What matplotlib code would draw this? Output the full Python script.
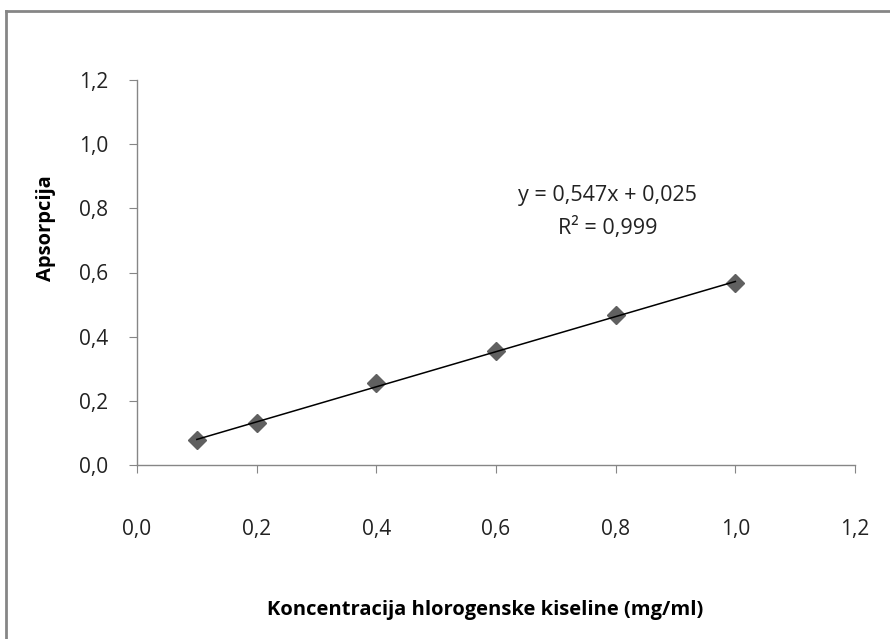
import numpy as np
import matplotlib
matplotlib.use('agg')
import matplotlib.pyplot as plt
from matplotlib.lines import Line2D
from matplotlib.ticker import FuncFormatter

# data
konc = [0.1, 0.2, 0.4, 0.6, 0.8, 1.0]
aps = [0.078, 0.130, 0.255, 0.355, 0.468, 0.568]
slope = 0.547
intercept = 0.025
r2 = 0.999
xticks = [0.0, 0.2, 0.4, 0.6, 0.8, 1.0, 1.2]
yticks = [0.0, 0.2, 0.4, 0.6, 0.8, 1.0, 1.2]

plt.rcParams['font.family'] = ['Open Sans', 'DejaVu Sans']

fig = plt.figure(figsize=[8.9, 6.39], dpi=100)
ax = fig.add_axes([137/890, 1-465/639, (855-137)/890, (465-80)/639])

ax.plot(konc, aps, linestyle='none', marker='D', markersize=9.5,
        color='#606060', zorder=2, clip_on=False)
xl = np.array([konc[0], konc[-1]])
ax.plot(xl, slope*xl + intercept, color='black', linewidth=1.1, zorder=3)

ax.set_xlim(0, 1.2)
ax.set_ylim(0, 1.2)
ax.set_xticks(xticks)
ax.set_yticks(yticks)
comma = FuncFormatter(lambda v, p: ('%.1f' % v).replace('.', ','))
ax.xaxis.set_major_formatter(comma)
ax.yaxis.set_major_formatter(comma)

for s in ['top', 'right']:
    ax.spines[s].set_visible(False)
for s in ['left', 'bottom']:
    ax.spines[s].set_color('#868686')
    ax.spines[s].set_linewidth(1)
ax.tick_params(direction='out', length=6, color='#868686', labelsize=15,
               labelcolor='#222222')
ax.tick_params(axis='x', pad=33)
ax.tick_params(axis='y', pad=15)

ax.text(0.655, 0.699, 'y = 0,547x + 0,025', transform=ax.transAxes,
        ha='center', va='center', fontsize=15.5, color='#222222')
ax.text(0.655, 0.616, 'R² = 0,999', transform=ax.transAxes,
        ha='center', va='center', fontsize=15.5, color='#222222')

fig.text(485/890, 1-610/639, 'Koncentracija hlorogenske kiseline (mg/ml)',
         ha='center', va='center', fontsize=14.5, fontweight='bold')
fig.text(46/890, 1-228/639, 'Apsorpcija', rotation=90,
         ha='center', va='center', fontsize=14.5, fontweight='bold')

# chart-area border (top and left edges visible)
fig.add_artist(Line2D([6/890, 6/890], [0, 1-11/639], transform=fig.transFigure,
                      color='#868686', linewidth=2))
fig.add_artist(Line2D([6/890, 1], [1-11/639, 1-11/639], transform=fig.transFigure,
                      color='#868686', linewidth=2))

plt.savefig('out.png', format='png', dpi=100)
plt.close(fig)
